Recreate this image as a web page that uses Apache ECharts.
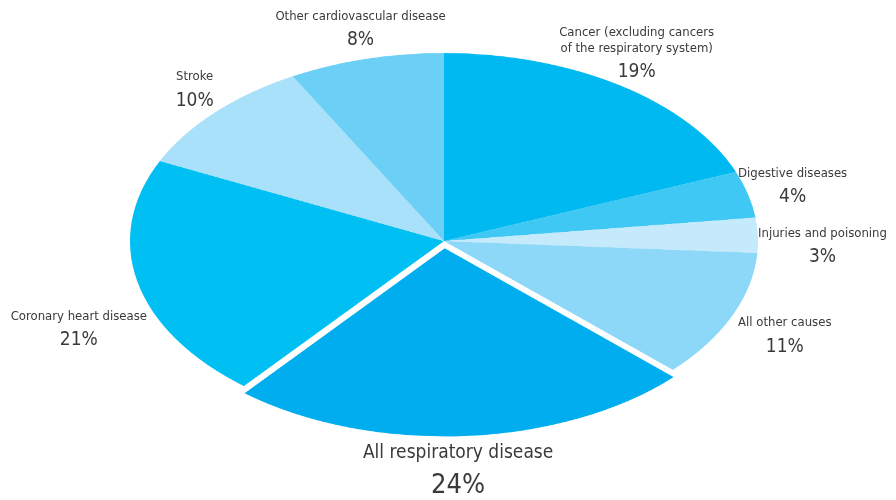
<!DOCTYPE html>
<html>
<head>
<meta charset="utf-8">
<script src="https://cdn.jsdelivr.net/npm/echarts@6/dist/echarts.min.js"></script>
<style>
  html, body { margin: 0; padding: 0; background: #fff; }
  #wrap { position: relative; width: 896px; height: 500px; overflow: hidden; }
  #pie { position: absolute; left: 0; top: 0; width: 896px; height: 835px; transform: scaleY(0.599); transform-origin: 0 0; }
  #labels { position: absolute; left: 0; top: 0; width: 896px; height: 500px; }
</style>
</head>
<body>
<div id="wrap">
  <div id="pie"></div>
  <div id="labels"></div>
</div>
<script>
// causes of death, share in %
var causes = [
    'Cancer (excluding cancers\nof the respiratory system)',
    'Digestive diseases',
    'Injuries and poisoning',
    'All other causes',
    'All respiratory disease',
    'Coronary heart disease',
    'Stroke',
    'Other cardiovascular disease'
];
var shares = [19, 4, 3, 11, 24, 21, 10, 8];
var colors = ['#00b9f0', '#40c8f4', '#c5eafb', '#8dd8f8', '#00adee', '#00bff3', '#a9e0fa', '#6bcff6'];
var highlighted = 'All respiratory disease';

// ellipse geometry (screen px)
var cx = 444, cy = 241, rx = 314, ry = 188;
var squash = ry / rx;

// label nudges so the text sits where the original put it
var nudge = [[-5, 2], [8, 4], [27, 15], [18, 8], [-8, 8], [-22, 42], [7, 6], [4, 10]];

var pieChart = echarts.init(document.getElementById('pie'));
pieChart.setOption({
    animation: false,
    series: [{
        type: 'pie',
        center: [cx, cy / squash],
        radius: [0, rx],
        startAngle: 90,
        clockwise: true,
        selectedMode: 'single',
        selectedOffset: 12,
        label: { show: false },
        labelLine: { show: false },
        emphasis: { disabled: true },
        data: causes.map(function (c, i) {
            return {
                name: c,
                value: shares[i],
                selected: c === highlighted,
                itemStyle: { color: colors[i] }
            };
        })
    }]
});

// labels: placed around the ellipse at each slice's mid angle
var font = '"Liberation Sans Narrow", "DejaVu Sans Condensed", sans-serif';
var total = shares.reduce(function (a, b) { return a + b; }, 0);
var acc = 0;
var texts = [];
causes.forEach(function (c, i) {
    var mid = (acc + shares[i] / 2) / total;
    acc += shares[i];
    var ang = (90 - mid * 360) * Math.PI / 180;
    var x = cx + 1.12 * rx * Math.cos(ang) + nudge[i][0];
    var y = cy - 1.2 * ry * Math.sin(ang) + nudge[i][1];
    var big = c === highlighted;
    texts.push({
        type: 'text',
        x: x,
        y: y,
        style: {
            text: '{n|' + c.split('\n').join('}\n{n|') + '}\n{p|' + shares[i] + '%}',
            align: 'center',
            verticalAlign: 'middle',
            fill: '#3a3a3a',
            fontFamily: font,
            rich: {
                n: { fontSize: big ? 19 : 13, lineHeight: big ? 24 : 16, fill: '#3a3a3a',
                     fontFamily: font, align: 'center' },
                p: { fontSize: big ? 27 : 19, lineHeight: big ? 42 : 31, fill: '#3a3a3a',
                     fontFamily: font, align: 'center' }
            }
        }
    });
});

var labelChart = echarts.init(document.getElementById('labels'));
labelChart.setOption({
    animation: false,
    graphic: texts
});
</script>
</body>
</html>
